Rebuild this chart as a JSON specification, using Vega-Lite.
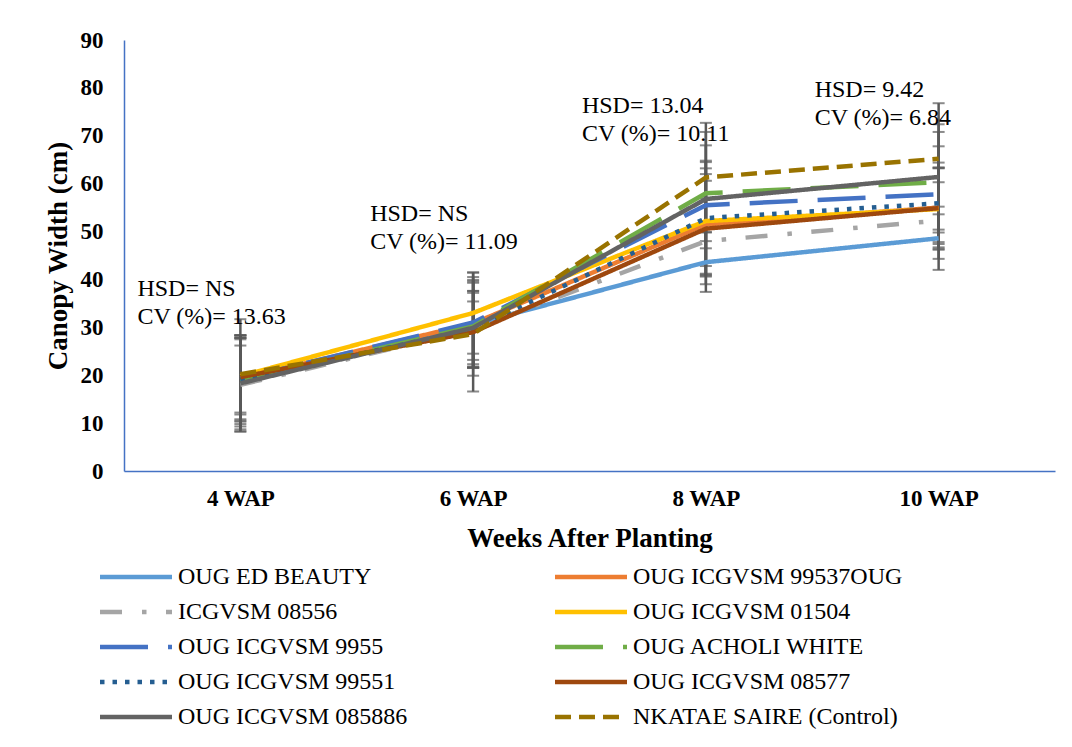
{
  "$schema": "https://vega.github.io/schema/vega-lite/v6.json",
  "width": 931,
  "height": 431,
  "autosize": {"type": "none"},
  "padding": {"left": 124, "top": 40, "right": 17, "bottom": 276},
  "background": "white",
  "config": {"view": {"stroke": null}, "font": "Liberation Serif"},
  "datasets": {
    "lines": [
      {"series": "OUG ED BEAUTY", "wap": "4 WAP", "value": 18.8, "lo": 9.3, "hi": 28.3},
      {"series": "OUG ED BEAUTY", "wap": "6 WAP", "value": 30.6, "lo": 21.6, "hi": 39.6},
      {"series": "OUG ED BEAUTY", "wap": "8 WAP", "value": 43.6, "lo": 37.4, "hi": 49.8},
      {"series": "OUG ED BEAUTY", "wap": "10 WAP", "value": 48.6, "lo": 42.0, "hi": 55.2},
      {"series": "OUG ICGVSM 99537OUG", "wap": "4 WAP", "value": 19.3, "lo": 10.3, "hi": 28.3},
      {"series": "OUG ICGVSM 99537OUG", "wap": "6 WAP", "value": 30.8, "lo": 22.3, "hi": 39.3},
      {"series": "OUG ICGVSM 99537OUG", "wap": "8 WAP", "value": 51.5, "lo": 41.0, "hi": 62.0},
      {"series": "OUG ICGVSM 99537OUG", "wap": "10 WAP", "value": 55.0, "lo": 46.7, "hi": 63.3},
      {"series": "ICGVSM 08556", "wap": "4 WAP", "value": 18.0, "lo": 8.2, "hi": 27.8},
      {"series": "ICGVSM 08556", "wap": "6 WAP", "value": 29.6, "lo": 21.6, "hi": 37.6},
      {"series": "ICGVSM 08556", "wap": "8 WAP", "value": 48.0, "lo": 39.0, "hi": 57.0},
      {"series": "ICGVSM 08556", "wap": "10 WAP", "value": 52.3, "lo": 44.3, "hi": 60.3},
      {"series": "OUG ICGVSM 01504", "wap": "4 WAP", "value": 19.8, "lo": 11.8, "hi": 27.8},
      {"series": "OUG ICGVSM 01504", "wap": "6 WAP", "value": 33.0, "lo": 24.5, "hi": 41.5},
      {"series": "OUG ICGVSM 01504", "wap": "8 WAP", "value": 52.2, "lo": 41.2, "hi": 63.2},
      {"series": "OUG ICGVSM 01504", "wap": "10 WAP", "value": 54.7, "lo": 46.2, "hi": 63.2},
      {"series": "OUG ICGVSM 9955", "wap": "4 WAP", "value": 19.2, "lo": 12.2, "hi": 26.2},
      {"series": "OUG ICGVSM 9955", "wap": "6 WAP", "value": 31.0, "lo": 21.5, "hi": 40.5},
      {"series": "OUG ICGVSM 9955", "wap": "8 WAP", "value": 55.5, "lo": 46.5, "hi": 64.5},
      {"series": "OUG ICGVSM 9955", "wap": "10 WAP", "value": 57.8, "lo": 47.8, "hi": 67.8},
      {"series": "OUG ACHOLI WHITE", "wap": "4 WAP", "value": 18.8, "lo": 9.8, "hi": 27.8},
      {"series": "OUG ACHOLI WHITE", "wap": "6 WAP", "value": 30.2, "lo": 23.2, "hi": 37.2},
      {"series": "OUG ACHOLI WHITE", "wap": "8 WAP", "value": 58.0, "lo": 48.0, "hi": 68.0},
      {"series": "OUG ACHOLI WHITE", "wap": "10 WAP", "value": 60.3, "lo": 49.8, "hi": 70.8},
      {"series": "OUG ICGVSM 99551", "wap": "4 WAP", "value": 19.0, "lo": 10.5, "hi": 27.5},
      {"series": "OUG ICGVSM 99551", "wap": "6 WAP", "value": 29.6, "lo": 21.6, "hi": 37.6},
      {"series": "OUG ICGVSM 99551", "wap": "8 WAP", "value": 52.8, "lo": 40.8, "hi": 64.8},
      {"series": "OUG ICGVSM 99551", "wap": "10 WAP", "value": 55.9, "lo": 47.4, "hi": 64.4},
      {"series": "OUG ICGVSM 08577", "wap": "4 WAP", "value": 19.6, "lo": 10.8, "hi": 28.4},
      {"series": "OUG ICGVSM 08577", "wap": "6 WAP", "value": 29.0, "lo": 16.6, "hi": 41.4},
      {"series": "OUG ICGVSM 08577", "wap": "8 WAP", "value": 50.6, "lo": 40.6, "hi": 60.6},
      {"series": "OUG ICGVSM 08577", "wap": "10 WAP", "value": 54.9, "lo": 46.4, "hi": 63.4},
      {"series": "OUG ICGVSM  085886", "wap": "4 WAP", "value": 18.3, "lo": 8.3, "hi": 28.3},
      {"series": "OUG ICGVSM  085886", "wap": "6 WAP", "value": 29.9, "lo": 19.9, "hi": 39.9},
      {"series": "OUG ICGVSM  085886", "wap": "8 WAP", "value": 56.8, "lo": 42.8, "hi": 70.8},
      {"series": "OUG ICGVSM  085886", "wap": "10 WAP", "value": 61.4, "lo": 50.4, "hi": 72.4},
      {"series": "NKATAE SAIRE (Control)", "wap": "4 WAP", "value": 20.2, "lo": 8.7, "hi": 31.7},
      {"series": "NKATAE SAIRE (Control)", "wap": "6 WAP", "value": 28.6, "lo": 21.8, "hi": 35.4},
      {"series": "NKATAE SAIRE (Control)", "wap": "8 WAP", "value": 61.3, "lo": 49.9, "hi": 72.7},
      {"series": "NKATAE SAIRE (Control)", "wap": "10 WAP", "value": 65.2, "lo": 53.6, "hi": 76.8}
    ],
    "notes": [
      {"wap": "4 WAP", "pos": 36.6, "label": "HSD= NS\nCV (%)= 13.63", "grp": "a"},
      {"wap": "6 WAP", "pos": 52.3, "label": "HSD= NS\nCV (%)= 11.09", "grp": "a"},
      {"wap": "8 WAP", "pos": 74.75, "label": "HSD= 13.04\nCV (%)= 10.11", "grp": "b"},
      {"wap": "10 WAP", "pos": 78.0, "label": "HSD= 9.42\nCV (%)= 6.84", "grp": "b"}
    ]
  },
  "layer": [
    {
      "data": {"name": "lines"},
      "mark": {"type": "rule", "color": "#595959", "strokeWidth": 2.5},
      "encoding": {
        "x": {
          "field": "wap", "type": "ordinal",
          "scale": {"type": "point", "domain": ["4 WAP", "6 WAP", "8 WAP", "10 WAP"], "padding": 0.5},
          "axis": {
            "title": "Weeks After Planting", "labelAngle": 0, "ticks": false, "grid": false,
            "domainColor": "#4472C4", "domainWidth": 1.5,
            "labelFont": "Liberation Serif", "labelFontSize": 23, "labelFontWeight": "bold", "labelColor": "black",
            "labelPadding": 16, "labelBaseline": "top",
            "titleFont": "Liberation Serif", "titleFontSize": 27, "titleFontWeight": "bold", "titleColor": "black",
            "titleX": 465.5, "titleY": 67, "titleBaseline": "middle", "titleAlign": "center"
          }
        },
        "y": {
          "field": "lo", "type": "quantitative",
          "scale": {"domain": [0, 90], "nice": false},
          "axis": {
            "title": "Canopy Width (cm)", "values": [0, 10, 20, 30, 40, 50, 60, 70, 80, 90],
            "ticks": false, "grid": false, "domainColor": "#4472C4", "domainWidth": 1.5,
            "labelFont": "Liberation Serif", "labelFontSize": 23, "labelFontWeight": "bold", "labelColor": "black",
            "labelPadding": 21,
            "titleFont": "Liberation Serif", "titleFontSize": 27, "titleFontWeight": "bold", "titleColor": "black",
            "titleX": -66, "titleY": 215.5, "titleAngle": -90, "titleBaseline": "middle", "titleAlign": "center"
          }
        },
        "y2": {"field": "hi"}
      }
    },
    {
      "data": {"name": "lines"},
      "mark": {"type": "tick", "orient": "horizontal", "color": "#595959", "size": 12, "thickness": 2},
      "encoding": {
        "x": {"field": "wap", "type": "ordinal"},
        "y": {"field": "lo", "type": "quantitative"}
      }
    },
    {
      "data": {"name": "lines"},
      "mark": {"type": "tick", "orient": "horizontal", "color": "#595959", "size": 12, "thickness": 2},
      "encoding": {
        "x": {"field": "wap", "type": "ordinal"},
        "y": {"field": "hi", "type": "quantitative"}
      }
    },
    {
      "data": {"name": "lines"},
      "mark": {"type": "line", "strokeWidth": 4.5},
      "encoding": {
        "x": {"field": "wap", "type": "ordinal"},
        "y": {"field": "value", "type": "quantitative"},
        "color": {
          "field": "series", "type": "nominal",
          "scale": {
            "domain": ["OUG ED BEAUTY", "ICGVSM 08556", "OUG ICGVSM 9955", "OUG ICGVSM 99551", "OUG ICGVSM  085886", "OUG ICGVSM 99537OUG", "OUG ICGVSM 01504", "OUG ACHOLI WHITE", "OUG ICGVSM 08577", "NKATAE SAIRE (Control)"],
            "range": ["#5B9BD5", "#A5A5A5", "#4472C4", "#255E91", "#636363", "#ED7D31", "#FFC000", "#70AD47", "#9E480E", "#997300"]
          },
          "legend": {
            "title": null, "orient": "none", "legendX": -26.5, "legendY": 522, "columns": 2,
            "columnPadding": 139, "rowPadding": 5, "clipHeight": 30, "padding": 0,
            "symbolType": "stroke", "symbolSize": 5184, "symbolStrokeWidth": 4.5,
            "labelFont": "Liberation Serif", "labelFontSize": 24, "labelColor": "black",
            "labelOffset": 3.5, "labelLimit": 500
          }
        },
        "strokeDash": {
          "field": "series", "type": "nominal",
          "scale": {
            "domain": ["OUG ED BEAUTY", "ICGVSM 08556", "OUG ICGVSM 9955", "OUG ICGVSM 99551", "OUG ICGVSM  085886", "OUG ICGVSM 99537OUG", "OUG ICGVSM 01504", "OUG ACHOLI WHITE", "OUG ICGVSM 08577", "NKATAE SAIRE (Control)"],
            "range": [[1, 0], [22, 20, 4.5, 19.5], [48, 20], [4.5, 8], [1, 0], [1, 0], [1, 0], [48, 20], [1, 0], [16, 8]]
          },
          "legend": {
            "title": null, "orient": "none", "legendX": -26.5, "legendY": 522, "columns": 2,
            "columnPadding": 139, "rowPadding": 5, "clipHeight": 30, "padding": 0,
            "symbolType": "stroke", "symbolSize": 5184, "symbolStrokeWidth": 4.5,
            "labelFont": "Liberation Serif", "labelFontSize": 24, "labelColor": "black",
            "labelOffset": 3.5, "labelLimit": 500
          }
        }
      }
    },
    {
      "data": {"name": "notes"},
      "transform": [{"filter": "datum.grp == 'a'"}],
      "mark": {"type": "text", "align": "left", "baseline": "alphabetic", "dx": -103, "fontSize": 24, "color": "black", "lineBreak": "\n", "lineHeight": 28.5, "font": "Liberation Serif"},
      "encoding": {
        "x": {"field": "wap", "type": "ordinal"},
        "y": {"field": "pos", "type": "quantitative"},
        "text": {"field": "label"}
      }
    },
    {
      "data": {"name": "notes"},
      "transform": [{"filter": "datum.grp == 'b'"}],
      "mark": {"type": "text", "align": "left", "baseline": "alphabetic", "dx": -124, "fontSize": 24, "color": "black", "lineBreak": "\n", "lineHeight": 28, "font": "Liberation Serif"},
      "encoding": {
        "x": {"field": "wap", "type": "ordinal"},
        "y": {"field": "pos", "type": "quantitative"},
        "text": {"field": "label"}
      }
    }
  ]
}
